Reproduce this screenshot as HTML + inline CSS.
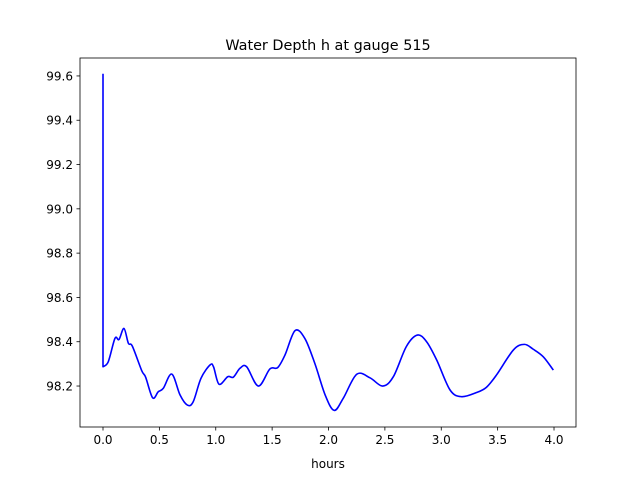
<!DOCTYPE html>
<html><head><meta charset="utf-8"><style>
body{margin:0;background:#fff;}
svg text{font-family:"DejaVu Sans","Liberation Sans",sans-serif;}
</style></head><body>
<svg id="chart" width="640" height="480" xmlns="http://www.w3.org/2000/svg">
<rect width="640" height="480" fill="#fff"/>
<text x="328" y="50" text-anchor="middle" font-size="14.4">Water Depth h at gauge 515</text>
<text x="328" y="468" text-anchor="middle" font-size="12">hours</text>
<g id="ticks"></g>
<path id="line" fill="none" stroke="#0000ff" stroke-width="1.6" stroke-linejoin="round"/>
<rect x="80" y="58" width="496" height="369" fill="none" stroke="#000" stroke-width="0.8"/>
</svg>
<script>
const xTicks=[0,0.5,1,1.5,2,2.5,3,3.5,4];
const xTickLabels=["0.0","0.5","1.0","1.5","2.0","2.5","3.0","3.5","4.0"];
const yTicks=[98.2,98.4,98.6,98.8,99.0,99.2,99.4,99.6];
const yTickLabels=["98.2","98.4","98.6","98.8","99.0","99.2","99.4","99.6"];
const hours=[0,0,0.047,0.106,0.142,0.186,0.225,0.26,0.343,0.378,0.44,0.49,0.535,0.61,0.683,0.748,0.80,0.869,0.949,0.98,1.029,1.106,1.156,1.215,1.274,1.378,1.48,1.549,1.614,1.703,1.79,1.88,1.97,2.05,2.13,2.25,2.368,2.48,2.575,2.69,2.788,2.87,2.96,3.078,3.18,3.31,3.40,3.49,3.64,3.737,3.816,3.905,3.994];
const depth=[99.61,98.287,98.31,98.415,98.41,98.46,98.393,98.38,98.27,98.24,98.147,98.174,98.19,98.254,98.16,98.114,98.129,98.235,98.295,98.287,98.208,98.242,98.24,98.28,98.287,98.2,98.277,98.283,98.34,98.45,98.415,98.30,98.16,98.09,98.144,98.253,98.237,98.2,98.242,98.378,98.43,98.40,98.317,98.182,98.152,98.17,98.194,98.25,98.363,98.388,98.366,98.332,98.272];
const X0=-0.204,X1=4.195,Y0=98.015,Y1=99.681,L=80,R=576,T=58,B=427;
const sx=v=>L+(v-X0)/(X1-X0)*(R-L);
const sy=v=>B-(v-Y0)/(Y1-Y0)*(B-T);
const NS="http://www.w3.org/2000/svg";
const g=document.getElementById('ticks');
function mk(t,a){const e=document.createElementNS(NS,t);for(const k in a)e.setAttribute(k,a[k]);g.appendChild(e);return e;}
xTicks.forEach((v,i)=>{const x=sx(v);
const l=mk('line',{x1:x,x2:x,y1:B,y2:B+3.5,stroke:'#000','stroke-width':0.8});


const t=mk('text',{x:x,y:B+17,'text-anchor':'middle','font-size':12});t.textContent=xTickLabels[i];

});
yTicks.forEach((v,i)=>{const y=sy(v);
const l=mk('line',{x1:L-3.5,x2:L,y1:y,y2:y,stroke:'#000','stroke-width':0.8});


const t=mk('text',{x:L-7,y:y+4.5,'text-anchor':'end','font-size':12});t.textContent=yTickLabels[i];

});
const P=hours.map((h,i)=>[sx(h),sy(depth[i])]);
let d='M'+P[0][0]+','+P[0][1]+' L'+P[1][0]+','+P[1][1];
for(let i=1;i<P.length-1;i++){const p0=P[Math.max(i-1,1)],p1=P[i],p2=P[i+1],p3=P[Math.min(i+2,P.length-1)];
d+=' C'+(p1[0]+(p2[0]-p0[0])/6)+','+(p1[1]+(p2[1]-p0[1])/6)+' '+(p2[0]-(p3[0]-p1[0])/6)+','+(p2[1]-(p3[1]-p1[1])/6)+' '+p2[0]+','+p2[1];}
document.getElementById('line').setAttribute('d',d);
</script>
</body></html>
